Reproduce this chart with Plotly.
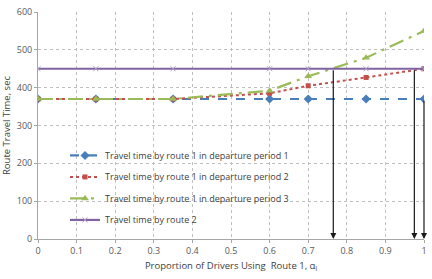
import plotly.graph_objects as go

alpha = [0, 0.15, 0.35, 0.6, 0.7, 0.85, 1.0]
route1_p1 = [370, 370, 370, 370, 370, 370, 370]
route1_p2 = [370, 370, 370, 385, 405, 427, 450]
route1_p3 = [370, 370, 370, 392, 430, 479, 550]
route2 = [450, 450, 450, 450, 450, 450, 450]
names = ["Travel time by route 1 in departure period 1",
         "Travel time by route 1 in departure period 2",
         "Travel time by route 1 in departure period 3",
         "Travel time by route 2"]
arrow_x = [0.765, 0.975, 1.0]
arrow_top = [450, 450, 370]
x_ticks = [0, 0.1, 0.2, 0.3, 0.4, 0.5, 0.6, 0.7, 0.8, 0.9, 1]
x_tick_text = ["0", "0.1", "0.2", "0.3", "0.4", "0.5", "0.6", "0.7", "0.8", "0.9", "1"]
y_ticks = [0, 100, 200, 300, 400, 500, 600]

fig = go.Figure()
fig.add_trace(go.Scatter(x=alpha, y=route1_p1, name=names[0], mode="lines+markers", legendgroup="a",
                         line=dict(color="#4A7EBB", width=2.2, dash="dash"),
                         marker=dict(symbol="diamond", size=7, color="#4A7EBB")))
fig.add_trace(go.Scatter(x=alpha, y=route1_p2, name=names[1], mode="lines+markers", legendgroup="b",
                         line=dict(color="#C0504D", width=2, dash="dot"),
                         marker=dict(symbol="square", size=5, color="#C0504D")))
fig.add_trace(go.Scatter(x=alpha, y=route1_p3, name=names[2], mode="lines+markers", legendgroup="c",
                         line=dict(color="#9BBB59", width=2.2, dash="longdashdot"),
                         marker=dict(symbol="triangle-up", size=7, color="#9BBB59")))
fig.add_trace(go.Scatter(x=alpha, y=route2, name=names[3], mode="lines+markers", legendgroup="d",
                         line=dict(color="#8064A2", width=2.2),
                         marker=dict(symbol="x-thin", size=5, color="#8064A2",
                                     line=dict(color="#B0A0C8", width=1))))

for xa, yt in zip(arrow_x, arrow_top):
    fig.add_annotation(x=xa, y=0, ax=xa, ay=yt, xref="x", yref="y", axref="x", ayref="y",
                       showarrow=True, arrowhead=2, arrowsize=1, arrowwidth=1.2,
                       arrowcolor="#1a1a1a", text="")

fig.update_layout(
    width=432, height=279,
    margin=dict(l=38, r=5, t=10, b=40),
    paper_bgcolor="white", plot_bgcolor="white",
    font=dict(family="Open Sans", size=9, color="#404040"),
    showlegend=True,
    legend=dict(x=0.07, y=0.432, xanchor="left", yanchor="top",
                bgcolor="rgba(0,0,0,0)", font=dict(size=9, color="#404040"),
                tracegroupgap=2.5, itemwidth=30),
    xaxis=dict(range=[0, 1], tickvals=x_ticks, ticktext=x_tick_text,
               showgrid=True, gridcolor="#BFBFBF", griddash="dot", gridwidth=1,
               showline=True, linecolor="#A6A6A6", linewidth=1, zeroline=False,
               ticks="outside", ticklen=3, tickcolor="#A6A6A6",
               title=dict(text="Proportion of Drivers Using  Route 1, α<sub>i</sub>",
                          font=dict(size=9.5, color="#404040"), standoff=6),
               tickfont=dict(size=9, color="#595959")),
    yaxis=dict(range=[0, 600], tickvals=y_ticks,
               showgrid=True, gridcolor="#BFBFBF", griddash="dot", gridwidth=1,
               showline=True, linecolor="#A6A6A6", linewidth=1, zeroline=False,
               ticks="outside", ticklen=3, tickcolor="#A6A6A6",
               title=dict(text="Route Travel Time, sec",
                          font=dict(size=9.5, color="#404040"), standoff=4),
               tickfont=dict(size=9, color="#595959")),
)

fig.write_html("out.html")
